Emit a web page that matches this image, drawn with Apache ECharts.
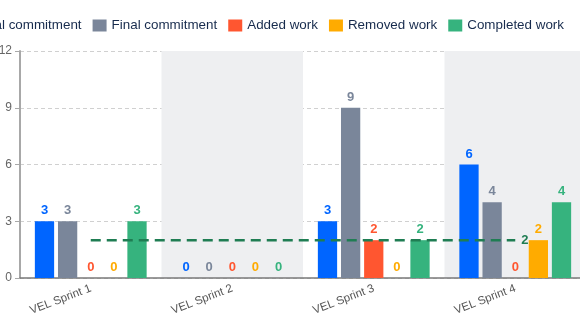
<!DOCTYPE html>
<html>
<head>
<meta charset="utf-8">
<script src="https://cdn.jsdelivr.net/npm/echarts@6/dist/echarts.min.js"></script>
<style>
html,body{margin:0;padding:0;width:580px;height:329px;overflow:hidden;background:#fff;position:relative;}
#c{position:absolute;left:-80px;top:0;width:680px;height:329px;}
</style>
</head>
<body>
<div id="c"></div>
<script>
const categories = ['VEL Sprint 1', 'VEL Sprint 2', 'VEL Sprint 3', 'VEL Sprint 4'];
const initialCommitment = [3, 0, 3, 6];
const finalCommitment = [3, 0, 9, 4];
const addedWork = [0, 0, 2, 0];
const removedWork = [0, 0, 0, 2];
const completedWork = [3, 0, 2, 4];
const averageLine = [2, 2, 2, 2];
const yTicks = [0, 3, 6, 9, 12];

const seriesDefs = [
  ['Initial commitment', initialCommitment, '#0065FF'],
  ['Final commitment', finalCommitment, '#7A869A'],
  ['Added work', addedWork, '#FF5630'],
  ['Removed work', removedWork, '#FFAB00'],
  ['Completed work', completedWork, '#36B37E']
];
const FONT = '"Liberation Sans", Arial, sans-serif';

const chart = echarts.init(document.getElementById('c'), null, {renderer: 'canvas'});
const series = seriesDefs.map(([name, data, color]) => ({
  name, type: 'bar', data,
  barGap: '20%', barCategoryGap: '21%',
  itemStyle: {color},
  label: {show: true, position: 'top', distance: 4, color, fontWeight: 'bold', fontSize: 13, fontFamily: FONT}
}));
series.push({
  name: 'Average', type: 'line', data: averageLine,
  symbol: 'none', silent: true,
  lineStyle: {color: '#1F7D53', width: 2.5, type: [10, 6]},
  itemStyle: {color: '#1F7D53'},
  endLabel: {show: true, color: '#1F7D53', fontWeight: 'bold', fontSize: 13, fontFamily: FONT, distance: 6},
  z: 5
});

chart.setOption({
  animation: false,
  textStyle: {fontFamily: FONT},
  legend: {
    data: seriesDefs.map(s => s[0]),
    right: 31, top: 14,
    itemWidth: 14, itemHeight: 12, itemGap: 11,
    icon: 'rect',
    textStyle: {color: '#172B4D', fontSize: 13.4, fontFamily: FONT}
  },
  grid: {left: 100, right: 14, top: 51, bottom: 51, containLabel: false},
  xAxis: {
    type: 'category', data: categories,
    axisLine: {lineStyle: {color: '#7a7a7a', width: 1.5}},
    axisTick: {alignWithLabel: true, length: 5, lineStyle: {color: '#7a7a7a'}},
    axisLabel: {rotate: 21, color: '#555', fontSize: 11.5, margin: 10, fontFamily: FONT},
    splitArea: {show: true, areaStyle: {color: ['rgba(0,0,0,0)', '#EEEFF1']}}
  },
  yAxis: {
    type: 'value', min: 0, max: 12, interval: 3,
    axisLine: {show: true, lineStyle: {color: '#a8a8a8', width: 2}},
    axisTick: {show: true, length: 5, lineStyle: {color: '#a8a8a8'}},
    axisLabel: {color: '#666', fontSize: 12, margin: 8, fontFamily: FONT},
    splitLine: {lineStyle: {color: '#d0d0d0', type: [4, 3]}}
  },
  series
});
</script>
</body>
</html>
